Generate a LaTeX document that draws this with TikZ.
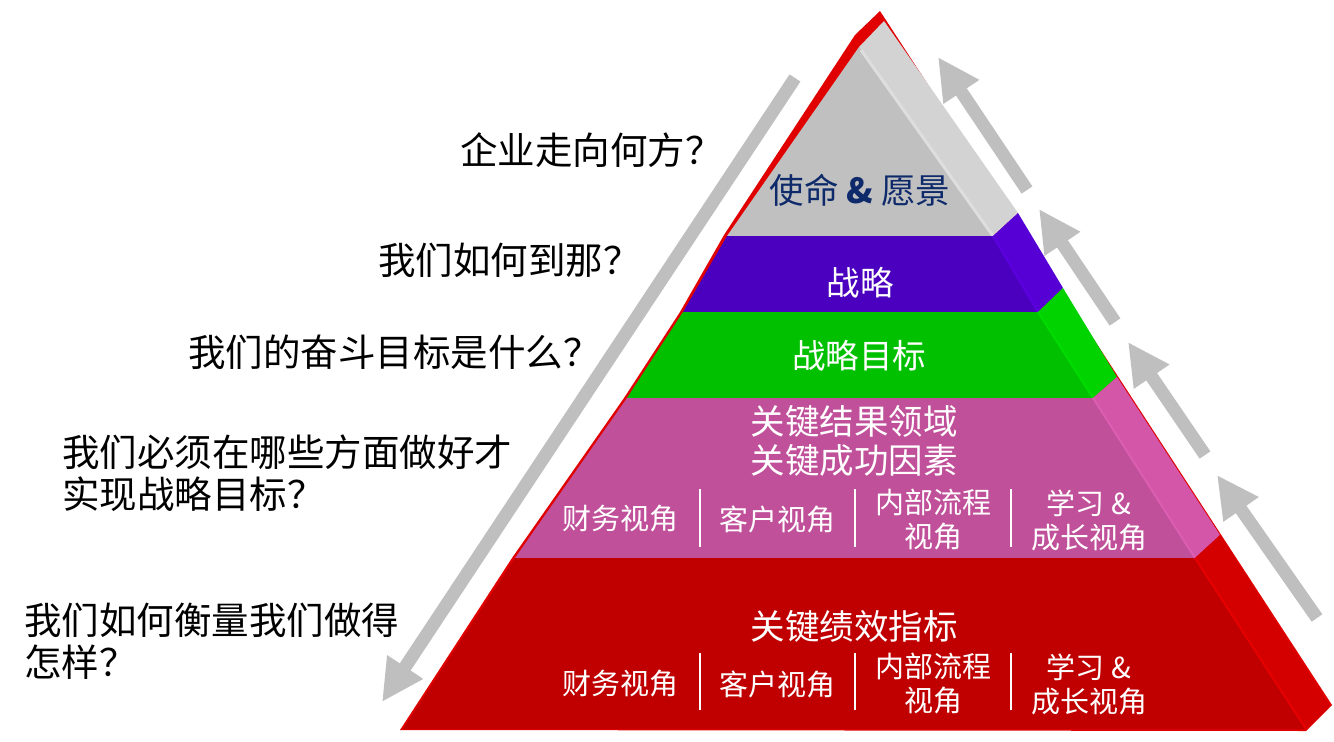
\documentclass[tikz,border=0pt]{standalone}
\usepackage{fontspec}
\setmainfont{Noto Sans CJK SC}
\newfontfamily\cjk{Noto Sans CJK SC}
\usetikzlibrary{arrows.meta}
\definecolor{redBack}{HTML}{E00000}
\definecolor{redFront}{HTML}{C00000}
\definecolor{redSide}{HTML}{D40000}
\definecolor{redHi}{HTML}{E60000}
\definecolor{grayFront}{HTML}{C0C0C0}
\definecolor{graySide}{HTML}{D3D3D3}
\definecolor{grayHi}{HTML}{DEDEDE}
\definecolor{purpleFront}{HTML}{4B00BF}
\definecolor{purpleSide}{HTML}{5600D6}
\definecolor{purpleHi}{HTML}{5C00E0}
\definecolor{greenFront}{HTML}{00C000}
\definecolor{greenSide}{HTML}{00D300}
\definecolor{greenHi}{HTML}{00DC00}
\definecolor{pinkFront}{HTML}{C0509A}
\definecolor{pinkSide}{HTML}{D456A8}
\definecolor{pinkHi}{HTML}{DC5EB2}
\definecolor{arrowGray}{HTML}{BFBFBF}
\definecolor{navy}{HTML}{0E2A6A}
\begin{document}
\begin{tikzpicture}[x=1pt,y=-1pt,
  question/.style={anchor=west,align=left,inner sep=0pt,text=black,font=\cjk\fontsize{37.5}{42}\selectfont},
  title/.style={align=center,inner sep=0pt,text=white,font=\cjk\fontsize{33.5}{39}\selectfont},
  bigtitle/.style={title,font=\cjk\fontsize{34.5}{39}\selectfont},
  small/.style={align=center,inner sep=0pt,text=white,font=\cjk\fontsize{29}{34}\selectfont},
  sep/.style={draw=white,line width=2.5pt},
  garrow/.style={draw=arrowGray,line width=13pt,-{Triangle[width=40pt,length=42pt]}}]
\useasboundingbox (0,0) rectangle (1334,742);
\fill[white] (0,0) rectangle (1334,742);

% red back silhouette
\fill[redBack] (400,730) -- (512,558) -- (624,398) -- (680,312) -- (724,235) -- (855,35) -- (880,11) -- (1332,705) -- (1306,731) -- cycle;

% gray layer
\fill[grayFront] (859,47) -- (993,236) -- (727,236) -- cycle;
\fill[graySide] (859,47) -- (884,21) -- (1018,213) -- (993,236) -- cycle;
\draw[grayHi,line width=3pt] (861,50) -- (993,236);

% purple layer
\fill[purpleFront] (727,236) -- (993,236) -- (1038,312) -- (683,312) -- cycle;
\fill[purpleSide] (993,236) -- (1018,213) -- (1063,288) -- (1038,312) -- cycle;
\draw[purpleHi,line width=2pt] (993,236) -- (1038,312);

% green layer
\fill[greenFront] (683,312) -- (1038,312) -- (1093,398) -- (627,398) -- cycle;
\fill[greenSide] (1038,312) -- (1063,288) -- (1117,377) -- (1093,398) -- cycle;
\draw[greenHi,line width=2pt] (1038,312) -- (1093,398);

% pink layer
\fill[pinkFront] (627,398) -- (1093,398) -- (1195,558) -- (515,558) -- cycle;
\fill[pinkSide] (1093,398) -- (1117,377) -- (1220,535) -- (1195,558) -- cycle;
\draw[pinkHi,line width=2pt] (1093,398) -- (1195,558);

% red layer
\fill[redFront] (515,558) -- (1195,558) -- (1306,729) -- (403,729) -- cycle;
\fill[redSide] (1195,558) -- (1220,535) -- (1330,706) -- (1306,729) -- cycle;
\draw[redHi,line width=2pt] (1195,558) -- (1306,729);

% layer labels
\node[bigtitle,text=navy] (mission) at (860,190) {使命 \textbf{\&} 愿景};
\node[title] (strategy) at (860,283) {战略};
\node[title] (goals) at (859,356) {战略目标};
\node[bigtitle] (kra) at (854,441) {关键结果领域\\关键成功因素};
\node[bigtitle] (kpi) at (854,626) {关键绩效指标};

\node[small] (p1) at (620,519) {财务视角};
\node[small] (p2) at (777,519) {客户视角};
\node[small] (p3) at (933,520) {内部流程\\视角};
\node[small] (p4) at (1089,520) {学习 \&\\成长视角};
\node[small] (r1) at (620,684) {财务视角};
\node[small] (r2) at (777,684) {客户视角};
\node[small] (r3) at (933,684) {内部流程\\视角};
\node[small] (r4) at (1089,684) {学习 \&\\成长视角};

\coordinate (ps1a) at (700,489); \coordinate (ps1b) at (700,547);
\coordinate (ps2a) at (855,489); \coordinate (ps2b) at (855,547);
\coordinate (ps3a) at (1011,489); \coordinate (ps3b) at (1011,547);
\coordinate (rs1a) at (700,653); \coordinate (rs1b) at (700,710);
\coordinate (rs2a) at (855,653); \coordinate (rs2b) at (855,710);
\coordinate (rs3a) at (1011,653); \coordinate (rs3b) at (1011,710);
\draw[sep] (ps1a) -- (ps1b);
\draw[sep] (ps2a) -- (ps2b);
\draw[sep] (ps3a) -- (ps3b);
\draw[sep] (rs1a) -- (rs1b);
\draw[sep] (rs2a) -- (rs2b);
\draw[sep] (rs3a) -- (rs3b);

% questions
\node[question] (q1) at (460,150) {企业走向何方？};
\node[question] (q2) at (378,260) {我们如何到那？};
\node[question] (q3) at (188,352) {我们的奋斗目标是什么？};
\node[question] (q4) at (62,473) {我们必须在哪些方面做好才\\实现战略目标？};
\node[question] (q5) at (24,641) {我们如何衡量我们做得\\怎样？};

% arrows
\coordinate (la) at (795,78);  \coordinate (lb) at (382,702);
\coordinate (a1s) at (1027,190); \coordinate (a1e) at (938,57);
\coordinate (a2s) at (1115,322); \coordinate (a2e) at (1039,209);
\coordinate (a3s) at (1205,455); \coordinate (a3e) at (1128,342);
\coordinate (a4s) at (1317,618); \coordinate (a4e) at (1217,475);
\draw[garrow] (la) -- (lb);
\draw[garrow] (a1s) -- (a1e);
\draw[garrow] (a2s) -- (a2e);
\draw[garrow] (a3s) -- (a3e);
\draw[garrow] (a4s) -- (a4e);
\end{tikzpicture}
\end{document}
